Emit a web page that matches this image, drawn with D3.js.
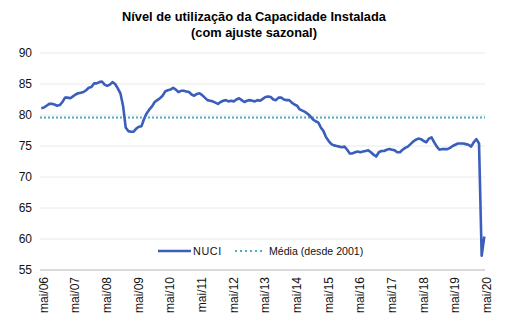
<!DOCTYPE html>
<html>
<head>
<meta charset="utf-8">
<script src="https://cdn.jsdelivr.net/npm/d3@7"></script>
<style>
  html, body { margin: 0; padding: 0; background: #fff; }
  svg { display: block; font-family: "Liberation Sans", Arial, sans-serif; }
</style>
</head>
<body>
<svg id="chart" width="510" height="335"></svg>
<script>
// ---- Data (monthly, mai/2006 .. mai/2020) ----
const nuci = [
  81.1, 81.2, 81.5, 81.8, 81.8, 81.7, 81.5, 81.6, 82.1, 82.8, 82.8, 82.7,
  83.0, 83.3, 83.5, 83.6, 83.7, 84.0, 84.4, 84.5, 85.1, 85.1, 85.3, 85.4,
  84.9, 84.7, 84.9, 85.3, 85.0, 84.3, 83.5, 81.5, 78.0, 77.4, 77.3, 77.3,
  77.8, 78.1, 78.2, 79.4, 80.3, 80.9, 81.4, 82.1, 82.4, 82.7, 83.1, 83.8,
  84.0, 84.1, 84.4, 84.1, 83.7, 83.9, 83.9, 83.8, 83.7, 83.3, 83.1, 83.4,
  83.5, 83.2, 82.8, 82.4, 82.3, 82.2, 82.0, 81.8, 82.1, 82.3, 82.4, 82.2,
  82.3, 82.2, 82.5, 82.7, 82.4, 82.1, 82.3, 82.4, 82.3, 82.2, 82.4, 82.3,
  82.6, 82.9, 83.0, 82.9, 82.5, 82.4, 82.8, 82.8, 82.5, 82.4, 82.4, 82.0,
  81.7, 81.5, 80.9, 80.7, 80.5, 80.2, 79.8, 79.3, 79.0, 78.8, 78.0, 77.4,
  76.4, 75.8, 75.3, 75.1, 75.0, 74.9, 74.8, 74.9, 74.4, 73.8, 73.8, 74.0,
  74.1, 74.0, 74.1, 74.2, 74.3, 74.0, 73.6, 73.3, 74.0, 74.2, 74.2, 74.4,
  74.5, 74.4, 74.3, 74.0, 74.0, 74.4, 74.7, 74.9, 75.3, 75.7, 76.0, 76.2,
  76.1, 75.8, 75.6, 76.2, 76.4, 75.6, 74.9, 74.4, 74.5, 74.5, 74.5, 74.7,
  75.0, 75.2, 75.4, 75.4, 75.4, 75.3, 75.2, 74.9, 75.6, 76.1, 75.4, 57.3,
  60.4
];
const mediaValue = 79.6; // Média (desde 2001)
const xTickLabels = ["mai/06","mai/07","mai/08","mai/09","mai/10","mai/11","mai/12",
                     "mai/13","mai/14","mai/15","mai/16","mai/17","mai/18","mai/19","mai/20"];
const yTicks = [55, 60, 65, 70, 75, 80, 85, 90];
const titleLines = ["Nível de utilização da Capacidade Instalada", "(com ajuste sazonal)"];
const legendLabels = ["NUCI", "Média (desde 2001)"];

(function () {
  const data = nuci.map((v, i) => ({ i, v }));

  const svg = d3.select("#chart");
  const pLeft = 40, pRight = 485, pTop = 53, pBottom = 270;
  const x = d3.scaleLinear().domain([0, nuci.length - 1]).range([41.3, 484.3]);
  const y = d3.scaleLinear().domain([55, 90]).range([pBottom, pTop]);

  const lineColor = "#3A5EBB";
  const mediaColor = "#4BACC6";

  // Title
  svg.append("g").selectAll("text").data(titleLines).join("text")
    .attr("x", 254).attr("y", (d, i) => 21 + i * 16)
    .attr("text-anchor", "middle")
    .attr("font-size", 12.8).attr("font-weight", "bold").attr("fill", "#000")
    .text(d => d);

  // Gridlines
  svg.append("g").selectAll("line").data(yTicks.filter(t => t !== 55)).join("line")
    .attr("x1", pLeft).attr("x2", pRight)
    .attr("y1", d => y(d)).attr("y2", d => y(d))
    .attr("stroke", "#EAEAEA").attr("stroke-width", 1);

  // Bottom axis line
  svg.append("line")
    .attr("x1", pLeft).attr("x2", pRight).attr("y1", y(55)).attr("y2", y(55))
    .attr("stroke", "#D9D9D9").attr("stroke-width", 2);

  // Y axis labels
  const yAxis = d3.axisLeft(y).tickValues(yTicks).tickSize(0).tickPadding(8);
  const gy = svg.append("g").attr("transform", `translate(${pLeft},0)`).call(yAxis);
  gy.select(".domain").remove();
  gy.selectAll("text").attr("font-size", 12).attr("fill", "#111")
    .attr("font-family", "Liberation Sans, Arial, sans-serif");

  // X axis labels (every 12 months), rotated
  const tickIdx = xTickLabels.map((d, k) => k * 12);
  svg.append("g").selectAll("text").data(tickIdx).join("text")
    .attr("transform", (d) => `translate(${x(d) + 2.5},277) rotate(-90)`)
    .attr("text-anchor", "end")
    .attr("dominant-baseline", "central")
    .attr("font-size", 12).attr("fill", "#111")
    .text((d, k) => xTickLabels[k]);

  // Média line
  svg.append("line")
    .attr("x1", pLeft).attr("x2", pRight)
    .attr("y1", y(mediaValue)).attr("y2", y(mediaValue))
    .attr("stroke", mediaColor).attr("stroke-width", 2)
    .attr("stroke-dasharray", "2,2");

  // NUCI line
  const line = d3.line().x(d => x(d.i)).y(d => y(d.v));
  svg.append("path").datum(data)
    .attr("d", line)
    .attr("fill", "none").attr("stroke", lineColor)
    .attr("stroke-width", 2.6).attr("stroke-linejoin", "round");

  // Legend
  const lg = svg.append("g");
  lg.append("line").attr("x1", 158).attr("x2", 191).attr("y1", 251).attr("y2", 251)
    .attr("stroke", lineColor).attr("stroke-width", 2.6);
  lg.append("text").attr("x", 193).attr("y", 251).attr("dominant-baseline", "central")
    .attr("font-size", 10.8).attr("fill", "#111").attr("letter-spacing", 0.6).text(legendLabels[0]);
  lg.append("line").attr("x1", 235).attr("x2", 262).attr("y1", 251).attr("y2", 251)
    .attr("stroke", mediaColor).attr("stroke-width", 2).attr("stroke-dasharray", "2,3");
  lg.append("text").attr("x", 269).attr("y", 251).attr("dominant-baseline", "central")
    .attr("font-size", 10.6).attr("fill", "#111").text(legendLabels[1]);
})();
</script>
</body>
</html>
